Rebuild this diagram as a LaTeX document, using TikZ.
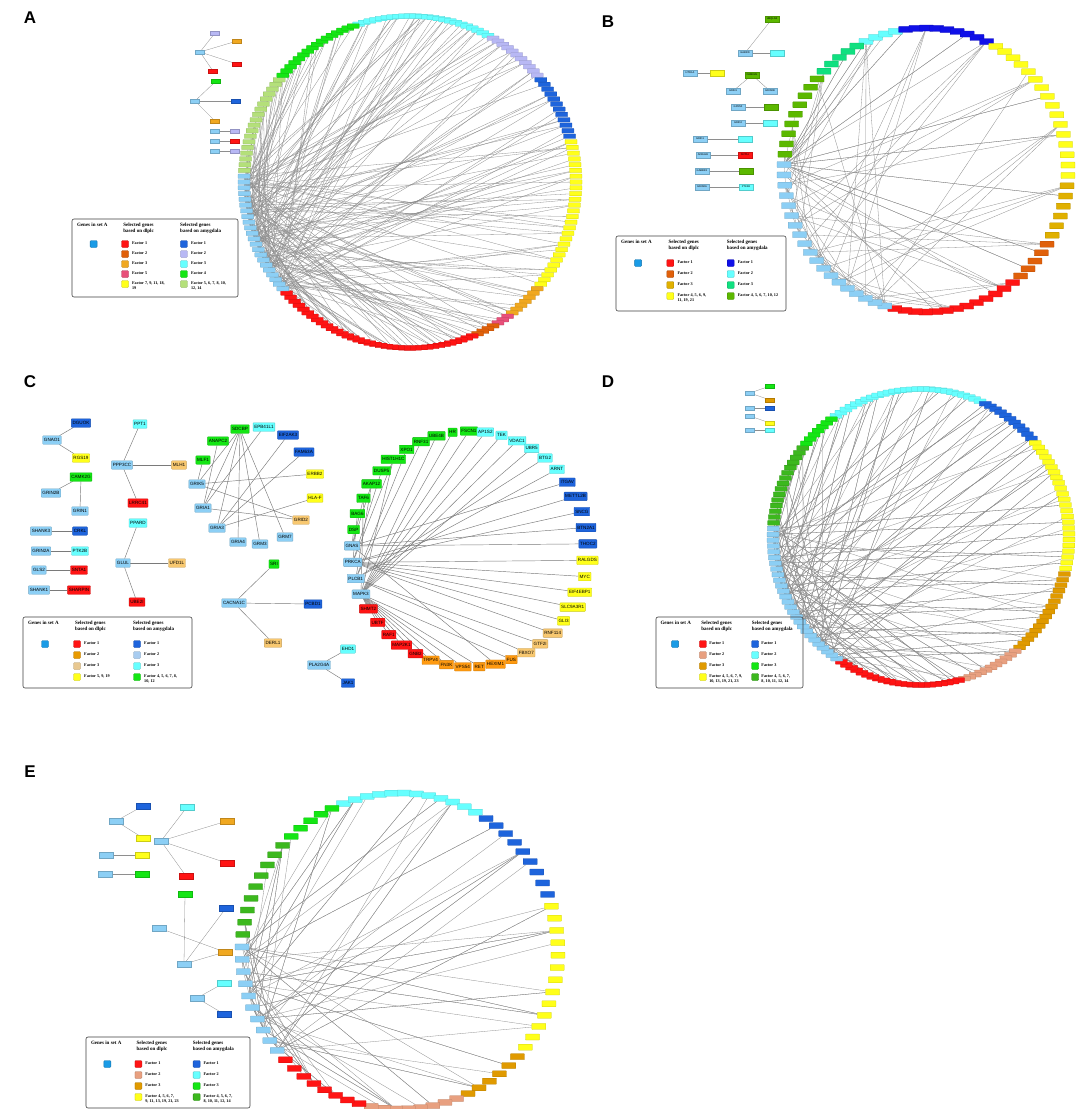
\documentclass[tikz,border=0pt]{standalone}
\usepackage{fontspec}
\setmainfont{Liberation Serif}
\setsansfont{Liberation Sans}
\pgfdeclarelayer{bg}
\pgfdeclarelayer{paper}
\pgfsetlayers{paper,bg,main}
\definecolor{setA}{HTML}{8CCFF5}
\definecolor{legA}{HTML}{1A9BE6}
\definecolor{fred}{HTML}{FF1414}
\definecolor{dblue}{HTML}{1E64DC}
\definecolor{ccyan}{HTML}{66FFFF}
\definecolor{cgreen}{HTML}{14E614}
\definecolor{cyellow}{HTML}{FFFF1A}
\definecolor{ctan}{HTML}{F8C870}
\definecolor{corange}{HTML}{FF9A10}
\definecolor{legorange}{HTML}{E89A00}
\definecolor{legtan}{HTML}{E8C890}
\definecolor{lavender}{HTML}{B8B8F4}
\definecolor{dorange}{HTML}{E0600A}
\definecolor{aorange}{HTML}{F0A820}
\definecolor{pinkA}{HTML}{E8507A}
\definecolor{lgreen}{HTML}{B4E07A}
\definecolor{gold}{HTML}{E0B000}
\definecolor{bblue}{HTML}{1010E8}
\definecolor{mint}{HTML}{10E080}
\definecolor{olive}{HTML}{5CB800}
\definecolor{salmon}{HTML}{E8A080}
\definecolor{dgreen}{HTML}{3CB81E}
\definecolor{lblue2}{HTML}{A8CCF0}
\definecolor{goldD}{HTML}{E09A00}
\definecolor{edgec}{HTML}{8E8E8E}
\definecolor{edgec2}{HTML}{7A7A7A}
\newcommand\gnfont{\sffamily\fontsize{4.6}{5}\selectfont}
\newcommand\bnfont{\sffamily\fontsize{2.6}{3}\selectfont}
\newcommand\lhfont{\rmfamily\bfseries\fontsize{5}{5.8}\selectfont}
\newcommand\ltfont{\rmfamily\bfseries\fontsize{4.2}{4.9}\selectfont}
\newcommand\plfont{\sffamily\bfseries\fontsize{17}{17}\selectfont}
\tikzset{
  rbox/.style={inner sep=0pt, line width=0.25pt, rounded corners=0.4pt},
  ed/.style={draw=edgec, line width=0.3pt},
  edc/.style={draw=edgec2, line width=0.45pt},
  gn/.style={draw=#1!80!black, fill=#1, font=\gnfont, inner sep=1.2pt, minimum height=8.5pt, line width=0.35pt, rounded corners=0.6pt, text=black},
  sn/.style={draw=#1!80!black, fill=#1, inner sep=0pt, minimum width=9pt, minimum height=3.8pt, line width=0.2pt},
  bn/.style={draw=#1!80!black, fill=#1, inner sep=0.3pt, minimum width=14pt, minimum height=5.5pt, line width=0.25pt, font=\bnfont},
  legbox/.style={draw=black!75, line width=0.6pt, rounded corners=2pt},
  lhead/.style={anchor=north west, inner sep=0pt, align=left, font=\lhfont},
  ltxt/.style={anchor=north west, inner sep=0pt, align=left, font=\ltfont},
  sw/.style={draw=#1!75!black, fill=#1, minimum width=7pt, minimum height=7pt, inner sep=0pt, rounded corners=1pt, line width=0.3pt},
  plet/.style={font=\plfont, inner sep=0pt},
}
% ring coordinates
\newcommand\ringpts[6]{%
  \pgfmathtruncatemacro\rplast{#5-1}%
  \pgfmathsetmacro\rpstep{360/#5}%
  \foreach \i in {0,...,\rplast}{%
    \pgfmathsetmacro\rpang{#6-\i*\rpstep}%
    \coordinate (#1\i) at ({#2+#4*cos(\rpang)},{#3-#4*sin(\rpang)});%
  }}
\newcommand\ringseg[6]{%
  \foreach \i in {#2,...,#3}{%
    \node[rbox, fill=#4, draw=#4!80!black, minimum width=#5, minimum height=#6] (#1n\i) at (#1\i) {};}}
\newcommand\hubedges[6]{%
  \foreach \h in {#2,...,#3}{%
    \foreach \k in {1,...,#4}{%
      \pgfmathtruncatemacro\het{mod(\h*#6+\k*\k*17+\k*41+7,#5)}%
      \ifnum\het=\h\else\draw[ed] (#1n\h) -- (#1n\het);\fi
    }}}
\newcommand\leghead[2]{%
  \node[lhead] (#1h1) at (5,4) {Genes in set A};
  \node[lhead] (#1h2) at (52,4) {Selected genes\\based on dlplc};
  \node[lhead] (#1h3) at (110,4) {Selected genes\\based on amygdala};
  \node[sw=legA] (#1s0) at (22,#2) {};}
\newcommand\lrow[6]{%
  \node[sw=#3] (#1a) at (54,#2) {};
  \node[ltxt] (#1at) at (61,{#2-2.4}) {#4};
  \node[sw=#5] (#1b) at (114,#2) {};
  \node[ltxt] (#1bt) at (121,{#2-2.4}) {#6};}
\begin{document}
\begin{tikzpicture}[x=1pt,y=-1pt]
\useasboundingbox (0,0) rectangle (1084,1109);
\begin{pgfonlayer}{paper}
\fill[white] (0,0) rectangle (1084,1109);
\end{pgfonlayer}
% ---------------- panel letters
\node[plet] (LA) at (30,18) {A};
\node[plet] (LB) at (608,22) {B};
\node[plet] (LC) at (30,382) {C};
\node[plet] (LD) at (608,382) {D};
\node[plet] (LE) at (30,772) {E};

% ================= PANEL A
\ringpts{A}{410}{182}{166}{180}{108}
\ringseg{A}{0}{23}{ccyan}{12pt}{4.5pt}
\ringseg{A}{24}{34}{lavender}{12pt}{4.5pt}
\ringseg{A}{35}{46}{dblue}{12pt}{4.5pt}
\ringseg{A}{47}{73}{cyellow}{12pt}{4.5pt}
\ringseg{A}{74}{80}{aorange}{12pt}{4.5pt}
\ringseg{A}{81}{83}{pinkA}{12pt}{4.5pt}
\ringseg{A}{84}{87}{dorange}{12pt}{4.5pt}
\ringseg{A}{88}{123}{fred}{12pt}{4.5pt}
\ringseg{A}{124}{145}{setA}{12pt}{4.5pt}
\ringseg{A}{146}{163}{lgreen}{12pt}{4.5pt}
\ringseg{A}{164}{179}{cgreen}{12pt}{4.5pt}
\begin{pgfonlayer}{bg}
\hubedges{A}{124}{145}{10}{180}{37}
\end{pgfonlayer}
% side network A
\node[sn=lavender] (a1) at (215,33) {};
\node[sn=aorange] (a2) at (237,41) {};
\node[sn=setA] (ah1) at (200,52) {};
\node[sn=fred] (a3) at (237,64) {};
\node[sn=fred] (a4) at (213,71) {};
\node[sn=cgreen] (a5) at (216,81) {};
\node[sn=setA] (ah2) at (195,101) {};
\node[sn=dblue] (a6) at (236,101) {};
\node[sn=aorange] (a7) at (215,121) {};
\node[sn=setA] (ap1) at (215,131) {};
\node[sn=lavender] (aq1) at (235,131) {};
\node[sn=setA] (ap2) at (215,141) {};
\node[sn=fred] (aq2) at (235,141) {};
\node[sn=setA] (ap3) at (215,151) {};
\node[sn=lavender] (aq3) at (235,151) {};
\begin{pgfonlayer}{bg}
\foreach \a/\b in {ah1/a1,ah1/a2,ah1/a3,ah1/a4,ah2/a5,ah2/a6,ah2/a7,ap1/aq1,ap2/aq2,ap3/aq3}
  \draw[ed] (\a) -- (\b);
\end{pgfonlayer}
% legend A
\begin{scope}[shift={(72,219)}, xscale=166/169]
\draw[legbox] (0,0) rectangle (169,78);
\leghead{lgA}{25}
\lrow{lgA1}{25}{fred}{Factor 1}{dblue}{Factor 1}
\lrow{lgA2}{35}{dorange}{Factor 2}{lavender}{Factor 2}
\lrow{lgA3}{45}{aorange}{Factor 3}{ccyan}{Factor 3}
\lrow{lgA4}{55}{pinkA}{Factor 5}{cgreen}{Factor 4}
\lrow{lgA5}{65}{cyellow}{Factor 7, 9, 11, 18,\\19}{lgreen}{Factor 5, 6, 7, 8, 10,\\12, 14}
\end{scope}

% ================= PANEL B
\ringpts{B}{926}{170}{142}{86}{115}
\ringseg{B}{0}{3}{ccyan}{14pt}{6pt}
\ringseg{B}{4}{12}{bblue}{14pt}{6pt}
\ringseg{B}{13}{28}{cyellow}{14pt}{6pt}
\ringseg{B}{29}{34}{gold}{14pt}{6pt}
\ringseg{B}{35}{39}{dorange}{14pt}{6pt}
\ringseg{B}{40}{52}{fred}{14pt}{6pt}
\ringseg{B}{53}{71}{setA}{14pt}{6pt}
\ringseg{B}{72}{80}{olive}{14pt}{6pt}
\ringseg{B}{81}{85}{mint}{14pt}{6pt}
\begin{pgfonlayer}{bg}
\hubedges{B}{53}{70}{3}{86}{23}
\hubedges{B}{71}{71}{26}{86}{13}
\end{pgfonlayer}
% side network B
\node[bn=olive] (bU) at (772,19) {UBQLN4};
\node[bn=setA] (bGABRD) at (745,53) {GABRD};
\node[bn=ccyan] (bGc) at (777,53) {};
\node[bn=setA] (bHTR) at (690,73) {HTR1A};
\node[bn=cyellow] (bHy) at (717,73) {};
\node[bn=olive] (bCAM) at (752,75) {CAMK2G};
\node[bn=setA] (bGRIN1) at (733,91) {GRIN1};
\node[bn=setA] (bGRIN2B) at (770,91) {GRIN2B};
\node[bn=setA] (bGPR) at (738,107) {GPR50};
\node[bn=olive] (bGPRp) at (771,107) {};
\node[bn=setA] (bGRID2) at (738,123) {GRID2};
\node[bn=ccyan] (bGRIDp) at (770,123) {};
\node[bn=setA] (bGRID1) at (700,139) {GRID1};
\node[bn=ccyan] (bGRID1p) at (745,139) {};
\node[bn=setA] (bADRA) at (703,155) {ADRA2A};
\node[bn=fred] (bADRAp) at (745,155) {SNTA1};
\node[bn=setA] (bGABBR) at (702,171) {GABBR1};
\node[bn=olive] (bGABBRp) at (746,171) {};
\node[bn=setA] (bGRIN2A) at (702,187) {GRIN2A};
\node[bn=ccyan] (bGRIN2Ap) at (746,187) {PTK2B};
\begin{pgfonlayer}{bg}
\foreach \a/\b in {bGABRD/bU,bGABRD/bGc,bHTR/bHy,bCAM/bGRIN1,bCAM/bGRIN2B,bGPR/bGPRp,bGRID2/bGRIDp,bGRID1/bGRID1p,bADRA/bADRAp,bGABBR/bGABBRp,bGRIN2A/bGRIN2Ap}
  \draw[ed] (\a) -- (\b);
\end{pgfonlayer}
\begin{scope}[shift={(616,236)}, xscale=170/169]
\draw[legbox] (0,0) rectangle (169,75);
\leghead{lgB}{27}
\lrow{lgB1}{27}{fred}{Factor 1}{bblue}{Factor 1}
\lrow{lgB2}{38}{dorange}{Factor 2}{ccyan}{Factor 2}
\lrow{lgB3}{49}{gold}{Factor 3}{mint}{Factor 3}
\lrow{lgB4}{60}{cyellow}{Factor 4, 5, 6, 9,\\11, 19, 21}{olive}{Factor 4, 5, 6, 7, 10, 12}
\end{scope}

% ================= PANEL C
\foreach \nm/\col [count=\k from 0] in {GNAS/setA,DSP/cgreen,BAG6/cgreen,TAF6/cgreen,AKAP12/cgreen,DUSP5/cgreen,HIST1H1C/cgreen,XPO1/cgreen,RNF31/cgreen,UBE4B/cgreen,HR/cgreen,FSCN1/cgreen,AP1S2/ccyan,TEK/ccyan,VDAC1/ccyan,UBR5/ccyan,BTG2/ccyan,ARNT/ccyan,ITGAV/dblue,METTL2B/dblue,SNCG/dblue,BTN2A1/dblue,THOC2/dblue,RALGDS/cyellow,MYC/cyellow,EIF4EBP1/cyellow,SLC9A3R1/cyellow,GLI3/cyellow,RNF114/ctan,GTF2I/ctan,FBXO7/ctan,FUS/corange,HEXIM1/corange,RET/corange,VPS54/corange,FN3K/corange,TRPV4/corange,GNB2/fred,MAP2K1/fred,RAF1/fred,UBTF/fred,SHMT2/fred,MAPK3/setA,PLCB1/setA,PRKCA/setA}{%
  \pgfmathsetmacro\cang{178.5-8*\k}
  \node[gn=\col] (c\nm) at ({470+118*cos(\cang)},{549-118*sin(\cang)}) {\nm};
}
\begin{pgfonlayer}{bg}
\foreach \a/\b in {GNAS/THOC2,GNAS/BTN2A1,GNAS/AKAP12,GNAS/TAF6,GNAS/DSP,GNAS/ITGAV,GNAS/HEXIM1,
PRKCA/RALGDS,PRKCA/MYC,PRKCA/EIF4EBP1,PRKCA/SLC9A3R1,PRKCA/GLI3,PRKCA/SNCG,PRKCA/METTL2B,PRKCA/DUSP5,PRKCA/HIST1H1C,PRKCA/BAG6,PRKCA/RNF114,
PLCB1/XPO1,PLCB1/RNF31,PLCB1/ARNT,PLCB1/BTG2,PLCB1/GTF2I,PLCB1/FBXO7,PLCB1/AKAP12,
MAPK3/FSCN1,MAPK3/HR,MAPK3/UBE4B,MAPK3/AP1S2,MAPK3/TEK,MAPK3/VDAC1,MAPK3/UBR5,MAPK3/FUS,MAPK3/RET,MAPK3/VPS54,MAPK3/FN3K,MAPK3/TRPV4,MAPK3/GNB2,MAPK3/MAP2K1,MAPK3/RAF1,MAPK3/UBTF,MAPK3/SHMT2,MAPK3/HIST1H1C,MAPK3/TAF6}
  \draw[edc] (c\a) -- (c\b);
\end{pgfonlayer}
% side network C
\node[gn=dblue] (cDGUOK) at (81,423) {DGUOK};
\node[gn=setA] (cGNAO1) at (52,440) {GNAO1};
\node[gn=cyellow] (cRGS19) at (81,458) {RGS19};
\node[gn=cgreen] (cCAMK2G) at (81,477) {CAMK2G};
\node[gn=setA] (cGRIN2B) at (51,493) {GRIN2B};
\node[gn=setA] (cGRIN1) at (80,511) {GRIN1};
\node[gn=setA] (cSHANK3) at (41,531) {SHANK3};
\node[gn=dblue] (cCRKL) at (80,531) {CRKL};
\node[gn=setA] (cGRIN2A) at (41,551) {GRIN2A};
\node[gn=ccyan] (cPTK2B) at (80,551) {PTK2B};
\node[gn=setA] (cGLS2) at (39,570) {GLS2};
\node[gn=fred] (cSNTA1) at (79,570) {SNTA1};
\node[gn=setA] (cSHANK1) at (39,590) {SHANK1};
\node[gn=fred] (cSHARPIN) at (79,590) {SHARPIN};
\node[gn=ccyan] (cPPT1) at (140,424) {PPT1};
\node[gn=setA] (cPPP3CC) at (122,465) {PPP3CC};
\node[gn=ctan] (cMLH1) at (179,465) {MLH1};
\node[gn=fred] (cLRRC41) at (138,503) {LRRC41};
\node[gn=ccyan] (cPPARD) at (138,523) {PPARD};
\node[gn=setA] (cGLUL) at (123,563) {GLUL};
\node[gn=ctan] (cUFD1L) at (177,563) {UFD1L};
\node[gn=fred] (cUBE2I) at (137,602) {UBE2I};
\node[gn=cgreen] (cANAPC2) at (218,441) {ANAPC2};
\node[gn=cgreen] (cSDCBP) at (240,429) {SDCBP};
\node[gn=ccyan] (cEPB41L1) at (264,427) {EPB41L1};
\node[gn=dblue] (cEIF2AK3) at (288,435) {EIF2AK3};
\node[gn=dblue] (cFAM63A) at (304,452) {FAM63A};
\node[gn=cgreen] (cMLF1) at (203,460) {MLF1};
\node[gn=setA] (cGRIK5) at (197,484) {GRIK5};
\node[gn=setA] (cGRIA1) at (203,508) {GRIA1};
\node[gn=setA] (cGRIA3) at (217,528) {GRIA3};
\node[gn=setA] (cGRIA4) at (238,542) {GRIA4};
\node[gn=setA] (cGRM3) at (260,544) {GRM3};
\node[gn=setA] (cGRM7) at (285,537) {GRM7};
\node[gn=cyellow] (cERBB2) at (315,474) {ERBB2};
\node[gn=cyellow] (cHLAF) at (315,498) {HLA-F};
\node[gn=ctan] (cGRID2) at (301,520) {GRID2};
\node[gn=cgreen] (cSRI) at (274,564) {SRI};
\node[gn=setA] (cCACNA1C) at (234,603) {CACNA1C};
\node[gn=dblue] (cPCBD1) at (313,604) {PCBD1};
\node[gn=ctan] (cDERL1) at (273,643) {DERL1};
\node[gn=ccyan] (cEHD1) at (348,649) {EHD1};
\node[gn=setA] (cPLA2G4A) at (319,665) {PLA2G4A};
\node[gn=dblue] (cJAK1) at (348,683) {JAK1};
\begin{pgfonlayer}{bg}
\foreach \a/\b in {GNAO1/DGUOK,GNAO1/RGS19,CAMK2G/GRIN2B,CAMK2G/GRIN1,SHANK3/CRKL,GRIN2A/PTK2B,GLS2/SNTA1,SHANK1/SHARPIN,PPP3CC/PPT1,PPP3CC/MLH1,PPP3CC/LRRC41,GLUL/PPARD,GLUL/UFD1L,GLUL/UBE2I,CACNA1C/SRI,CACNA1C/PCBD1,CACNA1C/DERL1,PLA2G4A/EHD1,PLA2G4A/JAK1,
GRIK5/MLF1,GRIA1/ANAPC2,SDCBP/GRIK5,SDCBP/GRIA1,SDCBP/GRIA3,SDCBP/GRIA4,SDCBP/GRM3,SDCBP/GRM7,EPB41L1/GRIA1,EIF2AK3/GRIA3,FAM63A/GRIA3,GRIK5/ERBB2,GRIK5/GRID2,GRIA1/GRID2,GRIA3/HLAF}
  \draw[edc] (c\a) -- (c\b);
\end{pgfonlayer}
\begin{scope}[shift={(23,617)}]
\draw[legbox] (0,0) rectangle (169,71);
\leghead{lgC}{27}
\lrow{lgC1}{27}{fred}{Factor 1}{dblue}{Factor 1}
\lrow{lgC2}{38}{legorange}{Factor 2}{lblue2}{Factor 2}
\lrow{lgC3}{49}{legtan}{Factor 3}{ccyan}{Factor 3}
\lrow{lgC4}{60}{cyellow}{Factor 5, 9, 19}{cgreen}{Factor 4, 5, 6, 7, 8,\\10, 12}
\end{scope}

% ================= PANEL D
\ringpts{D}{921}{537}{148}{160}{125}
\ringseg{D}{0}{26}{ccyan}{12pt}{4.8pt}
\ringseg{D}{27}{37}{dblue}{12pt}{4.8pt}
\ringseg{D}{38}{61}{cyellow}{12pt}{4.8pt}
\ringseg{D}{62}{77}{goldD}{12pt}{4.8pt}
\ringseg{D}{78}{88}{salmon}{12pt}{4.8pt}
\ringseg{D}{89}{110}{fred}{12pt}{4.8pt}
\ringseg{D}{111}{137}{setA}{12pt}{4.8pt}
\ringseg{D}{138}{152}{dgreen}{12pt}{4.8pt}
\ringseg{D}{153}{159}{cgreen}{12pt}{4.8pt}
\begin{pgfonlayer}{bg}
\hubedges{D}{111}{137}{8}{160}{31}
\end{pgfonlayer}
\node[sn=cgreen] (d1) at (770,386) {};
\node[sn=setA] (dh1) at (750,393) {};
\node[sn=goldD] (d2) at (770,400) {};
\node[sn=setA] (dh2) at (750,408) {};
\node[sn=dblue] (d3) at (770,408) {};
\node[sn=setA] (dh3) at (750,416) {};
\node[sn=cyellow] (d4) at (770,423) {};
\node[sn=setA] (dh4) at (750,430) {};
\node[sn=ccyan] (d5) at (770,430) {};
\begin{pgfonlayer}{bg}
\foreach \a/\b in {dh1/d1,dh1/d2,dh2/d3,dh3/d4,dh4/d5}
  \draw[ed] (\a) -- (\b);
\end{pgfonlayer}
\begin{scope}[shift={(656,617)}, xscale=147/169]
\draw[legbox] (0,0) rectangle (169,71);
\leghead{lgD}{27}
\lrow{lgD1}{27}{fred}{Factor 1}{dblue}{Factor 1}
\lrow{lgD2}{38}{salmon}{Factor 2}{ccyan}{Factor 2}
\lrow{lgD3}{49}{goldD}{Factor 3}{cgreen}{Factor 3}
\lrow{lgD4}{60}{cyellow}{Factor 4, 5, 6, 7, 9,\\10, 13, 19, 21, 23}{dgreen}{Factor 4, 5, 6, 7,\\8, 10, 11, 12, 14}
\end{scope}

% ================= PANEL E
\ringpts{E}{400}{951}{158}{80}{111}
\ringseg{E}{0}{11}{ccyan}{14pt}{6pt}
\ringseg{E}{12}{20}{dblue}{14pt}{6pt}
\ringseg{E}{21}{33}{cyellow}{14pt}{6pt}
\ringseg{E}{34}{39}{goldD}{14pt}{6pt}
\ringseg{E}{40}{47}{salmon}{14pt}{6pt}
\ringseg{E}{48}{55}{fred}{14pt}{6pt}
\ringseg{E}{56}{65}{setA}{14pt}{6pt}
\ringseg{E}{66}{74}{dgreen}{14pt}{6pt}
\ringseg{E}{75}{79}{cgreen}{14pt}{6pt}
\begin{pgfonlayer}{bg}
\hubedges{E}{56}{65}{9}{80}{29}
\end{pgfonlayer}
\node[bn=dblue] (e1) at (143,806) {};
\node[bn=setA] (eh0) at (116,821) {};
\node[bn=cyellow] (e2) at (143,838) {};
\node[bn=ccyan] (e3) at (187,807) {};
\node[bn=setA] (eh1) at (161,841) {};
\node[bn=aorange] (e4) at (227,821) {};
\node[bn=fred] (e5) at (227,863) {};
\node[bn=fred] (e8) at (186,876) {};
\node[bn=setA] (eh2) at (106,855) {};
\node[bn=cyellow] (e6) at (142,855) {};
\node[bn=setA] (eh3) at (105,874) {};
\node[bn=cgreen] (e7) at (142,874) {};
\node[bn=cgreen] (e9) at (185,894) {};
\node[bn=dblue] (e10) at (226,908) {};
\node[bn=setA] (eh5) at (159,928) {};
\node[bn=aorange] (e11) at (225,952) {};
\node[bn=setA] (eh4) at (184,964) {};
\node[bn=ccyan] (e12) at (224,983) {};
\node[bn=setA] (eh6) at (197,998) {};
\node[bn=dblue] (e13) at (224,1014) {};
\begin{pgfonlayer}{bg}
\foreach \a/\b in {eh0/e1,eh0/e2,eh1/e3,eh1/e4,eh1/e5,eh1/e8,eh2/e6,eh3/e7,eh4/e9,eh4/e10,eh4/e11,eh5/e11,eh6/e12,eh6/e13}
  \draw[ed] (\a) -- (\b);
\end{pgfonlayer}
\begin{scope}[shift={(86,1037)}, xscale=164/169]
\draw[legbox] (0,0) rectangle (169,71);
\leghead{lgE}{27}
\lrow{lgE1}{27}{fred}{Factor 1}{dblue}{Factor 1}
\lrow{lgE2}{38}{salmon}{Factor 2}{ccyan}{Factor 2}
\lrow{lgE3}{49}{goldD}{Factor 3}{cgreen}{Factor 3}
\lrow{lgE4}{60}{cyellow}{Factor 4, 5, 6, 7,\\9, 11, 13, 19, 21, 23}{dgreen}{Factor 4, 5, 6, 7,\\8, 10, 11, 12, 14}
\end{scope}
\end{tikzpicture}
\end{document}
